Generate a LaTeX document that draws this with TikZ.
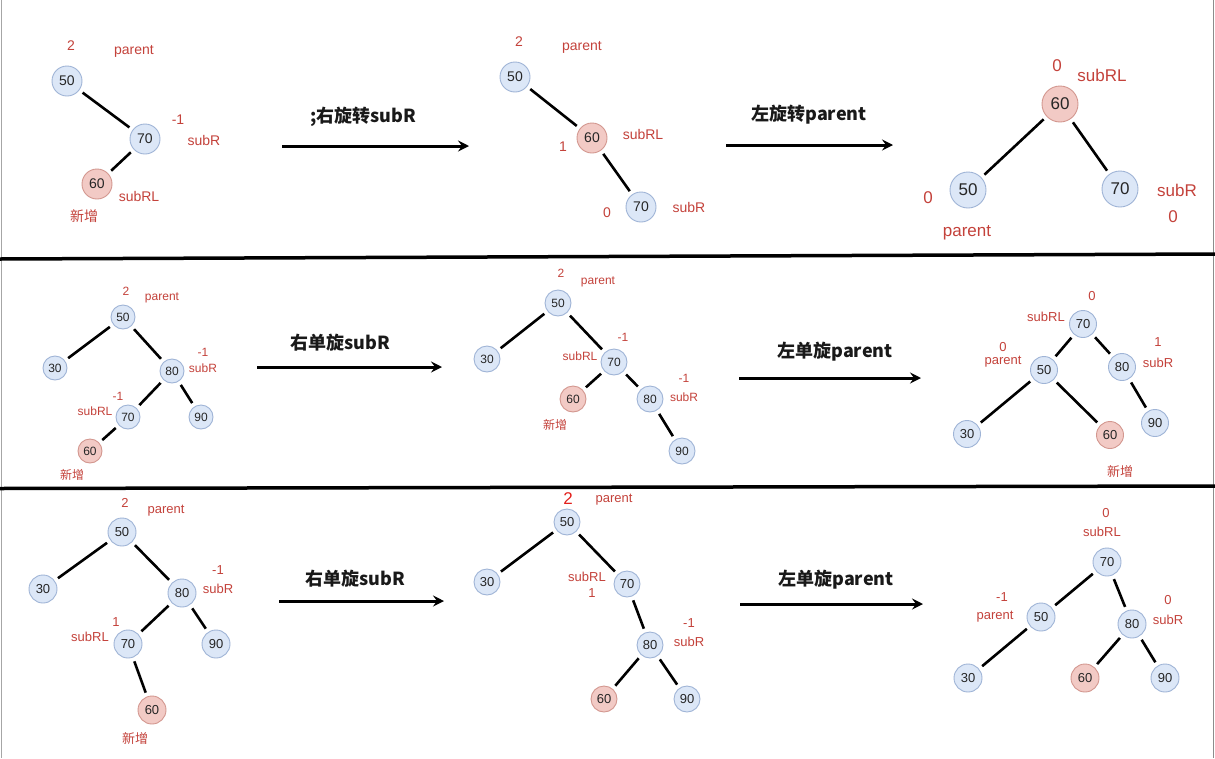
\documentclass[tikz,border=0pt]{standalone}
\usepackage{fontspec}
\setmainfont{Liberation Sans}
\newfontfamily\cjk{Noto Sans CJK SC}
\usetikzlibrary{arrows.meta}
\definecolor{bfill}{HTML}{DCE7F7}
\definecolor{bdraw}{HTML}{9FB4D6}
\definecolor{rfill}{HTML}{F2CAC5}
\definecolor{rdraw}{HTML}{D3978F}
\definecolor{lblred}{HTML}{C4423B}
\definecolor{brightred}{HTML}{E3201C}
\tikzset{
  bn/.style={circle, draw=bdraw, fill=bfill, line width=0.9pt, text=black!85, inner sep=0pt, minimum size=#1},
  rn/.style={circle, draw=rdraw, fill=rfill, line width=0.9pt, text=black!85, inner sep=0pt, minimum size=#1},
  ed/.style={line width=2.6pt, shorten >=4pt, shorten <=4pt},
  lb/.style={text=lblred, inner sep=0pt},
  arr/.style={line width=3pt, -{Stealth[length=11pt,width=11pt,inset=4pt]}},
  alb/.style={inner sep=0pt, text=black!90, font=\cjk\bfseries\fontsize{18}{20}\selectfont},
  fs/.style={font=\fontsize{#1}{#1}\selectfont}
}
\begin{document}
\begin{tikzpicture}[x=1pt,y=-1pt]
\useasboundingbox (0,0) rectangle (1215,758);
\fill[white] (0,0) rectangle (1215,758);
\draw[black!35, line width=0.8pt] (1,0) -- (1,758);
\draw[black!45, line width=1pt] (1213,0) -- (1213,758);
% separators
\draw[line width=3.5pt] (0,259) -- (1215,254);
\draw[line width=3.5pt] (0,488.5) -- (1215,486);

% ===== Row 1 left =====
\begin{scope}[fs=14]
\node[bn=30pt] (a50) at (67,81) {50};
\node[bn=30pt] (a70) at (145,139) {70};
\node[rn=30pt] (a60) at (97,184) {60};
\draw[ed] (a50) -- (a70);
\draw[ed] (a70) -- (a60);
\node[lb] (al1) at (71,46) {2};
\node[lb] (al2) at (134,51) {parent};
\node[lb] (al3) at (178,120) {-1};
\node[lb] (al4) at (204,140) {subR};
\node[lb] (al5) at (139,196) {subRL};
\node[lb,font=\cjk\fontsize{14}{14}\selectfont] (al6) at (84,216) {新增};
\end{scope}
\coordinate (r1s) at (282,146);
\coordinate (r1e) at (469,146);
\draw[arr] (r1s) -- (r1e);
\node[alb] (r1l) at (363,117) {;右旋转subR};

% ===== Row 1 middle =====
\begin{scope}[fs=14]
\node[bn=30pt] (b50) at (515,77) {50};
\node[rn=30pt] (b60) at (592,138) {60};
\node[bn=30pt] (b70) at (641,207) {70};
\draw[ed] (b50) -- (b60);
\draw[ed] (b60) -- (b70);
\node[lb] (bl1) at (519,42) {2};
\node[lb] (bl2) at (582,47) {parent};
\node[lb] (bl3) at (643,134) {subRL};
\node[lb] (bl4) at (563,147) {1};
\node[lb] (bl5) at (607,213) {0};
\node[lb] (bl6) at (689,207) {subR};
\end{scope}
\coordinate (r2s) at (726,145);
\coordinate (r2e) at (893,145);
\draw[arr] (r2s) -- (r2e);
\node[alb] (r2l) at (809,115) {左旋转parent};

% ===== Row 1 right =====
\begin{scope}[fs=17]
\node[rn=36pt] (c60) at (1060,104) {60};
\node[bn=36pt] (c50) at (968,190) {50};
\node[bn=36pt] (c70) at (1120,189) {70};
\draw[ed] (c60) -- (c50);
\draw[ed] (c60) -- (c70);
\node[lb] (cl1) at (1057,66) {0};
\node[lb] (cl2) at (1102,75) {subRL};
\node[lb] (cl3) at (928,198) {0};
\node[lb] (cl4) at (967,233) {parent};
\node[lb] (cl5) at (1177,190) {subR};
\node[lb] (cl6) at (1173,217) {0};
\end{scope}

% ===== Row 2 left =====
\begin{scope}[fs=12]
\node[bn=24pt] (d50) at (123,317) {50};
\node[bn=24pt] (d30) at (55,368) {30};
\node[bn=24pt] (d80) at (172,371) {80};
\node[bn=24pt] (d70) at (128,417) {70};
\node[bn=24pt] (d90) at (201,417) {90};
\node[rn=24pt] (d60) at (90,451) {60};
\draw[ed] (d50) -- (d30);
\draw[ed] (d50) -- (d80);
\draw[ed] (d80) -- (d70);
\draw[ed] (d80) -- (d90);
\draw[ed] (d70) -- (d60);
\node[lb] (dl1) at (126,291) {2};
\node[lb] (dl2) at (162,298) {parent};
\node[lb] (dl3) at (203,352) {-1};
\node[lb] (dl4) at (203,368) {subR};
\node[lb] (dl5) at (118,396) {-1};
\node[lb] (dl6) at (95,411) {subRL};
\node[lb,font=\cjk\fontsize{12}{12}\selectfont] (dl7) at (72,475) {新增};
\end{scope}
\coordinate (r3s) at (257,367);
\coordinate (r3e) at (442,367);
\draw[arr] (r3s) -- (r3e);
\node[alb] (r3l) at (340,343) {右单旋subR};

% ===== Row 2 middle =====
\begin{scope}[fs=12]
\node[bn=26pt] (e50) at (558,303) {50};
\node[bn=26pt] (e30) at (487,359) {30};
\node[bn=26pt] (e70) at (614,362) {70};
\node[rn=26pt] (e60) at (573,399) {60};
\node[bn=26pt] (e80) at (650,399) {80};
\node[bn=26pt] (e90) at (682,451) {90};
\draw[ed] (e50) -- (e30);
\draw[ed] (e50) -- (e70);
\draw[ed] (e70) -- (e60);
\draw[ed] (e70) -- (e80);
\draw[ed] (e80) -- (e90);
\node[lb] (el1) at (561,273) {2};
\node[lb] (el2) at (598,282) {parent};
\node[lb] (el3) at (623,337) {-1};
\node[lb] (el4) at (580,356) {subRL};
\node[lb,font=\cjk\fontsize{12}{12}\selectfont] (el5) at (555,425) {新增};
\node[lb] (el6) at (684,378) {-1};
\node[lb] (el7) at (684,397) {subR};
\end{scope}
\coordinate (r4s) at (739,378);
\coordinate (r4e) at (921,378);
\draw[arr] (r4s) -- (r4e);
\node[alb] (r4l) at (835,352) {左单旋parent};

% ===== Row 2 right =====
\begin{scope}[fs=13]
\node[bn=27pt] (f70) at (1083,324) {70};
\node[bn=27pt] (f50) at (1044,370) {50};
\node[bn=27pt] (f80) at (1122,367) {80};
\node[bn=27pt] (f30) at (967,434) {30};
\node[rn=27pt] (f60) at (1110,435) {60};
\node[bn=27pt] (f90) at (1155,423) {90};
\draw[ed] (f70) -- (f50);
\draw[ed] (f70) -- (f80);
\draw[ed] (f50) -- (f30);
\draw[ed] (f50) -- (f60);
\draw[ed] (f80) -- (f90);
\node[lb] (fl1) at (1092,296) {0};
\node[lb] (fl2) at (1046,317) {subRL};
\node[lb] (fl3) at (1003,347) {0};
\node[lb] (fl4) at (1003,362) {parent};
\node[lb] (fl5) at (1158,342) {1};
\node[lb] (fl6) at (1158,363) {subR};
\node[lb,font=\cjk\fontsize{13}{13}\selectfont] (fl7) at (1120,472) {新增};
\end{scope}

% ===== Row 3 left =====
\begin{scope}[fs=13]
\node[bn=28pt] (g50) at (122,532) {50};
\node[bn=28pt] (g30) at (43,589) {30};
\node[bn=28pt] (g80) at (182,593) {80};
\node[bn=28pt] (g70) at (128,644) {70};
\node[bn=28pt] (g90) at (216,644) {90};
\node[rn=28pt] (g60) at (152,710) {60};
\draw[ed] (g50) -- (g30);
\draw[ed] (g50) -- (g80);
\draw[ed] (g80) -- (g70);
\draw[ed] (g80) -- (g90);
\draw[ed] (g70) -- (g60);
\node[lb] (gl1) at (125,503) {2};
\node[lb] (gl2) at (166,511) {parent};
\node[lb] (gl3) at (218,570) {-1};
\node[lb] (gl4) at (218,589) {subR};
\node[lb] (gl5) at (116,622) {1};
\node[lb] (gl6) at (90,637) {subRL};
\node[lb,font=\cjk\fontsize{13}{13}\selectfont] (gl7) at (135,739) {新增};
\end{scope}
\coordinate (r5s) at (279,601);
\coordinate (r5e) at (444,601);
\draw[arr] (r5s) -- (r5e);
\node[alb] (r5l) at (355,579) {右单旋subR};

% ===== Row 3 middle =====
\begin{scope}[fs=13]
\node[bn=26pt] (h50) at (567,522) {50};
\node[bn=26pt] (h30) at (487,582) {30};
\node[bn=26pt] (h70) at (627,584) {70};
\node[bn=26pt] (h80) at (650,645) {80};
\node[rn=26pt] (h60) at (604,699) {60};
\node[bn=26pt] (h90) at (687,699) {90};
\draw[ed] (h50) -- (h30);
\draw[ed] (h50) -- (h70);
\draw[ed] (h70) -- (h80);
\draw[ed] (h80) -- (h60);
\draw[ed] (h80) -- (h90);
\node[lb,text=brightred,fs=17] (hl1) at (568,499) {2};
\node[lb] (hl2) at (614,500) {parent};
\node[lb] (hl3) at (587,577) {subRL};
\node[lb] (hl4) at (592,593) {1};
\node[lb] (hl5) at (689,623) {-1};
\node[lb] (hl6) at (689,642) {subR};
\end{scope}
\coordinate (r6s) at (740,604);
\coordinate (r6e) at (923,604);
\draw[arr] (r6s) -- (r6e);
\node[alb] (r6l) at (836,580) {左单旋parent};

% ===== Row 3 right =====
\begin{scope}[fs=13]
\node[bn=28pt] (k70) at (1107,562) {70};
\node[bn=28pt] (k50) at (1041,617) {50};
\node[bn=28pt] (k80) at (1132,624) {80};
\node[bn=28pt] (k30) at (968,678) {30};
\node[rn=28pt] (k60) at (1085,678) {60};
\node[bn=28pt] (k90) at (1165,678) {90};
\draw[ed] (k70) -- (k50);
\draw[ed] (k70) -- (k80);
\draw[ed] (k50) -- (k30);
\draw[ed] (k80) -- (k60);
\draw[ed] (k80) -- (k90);
\node[lb] (kl1) at (1106,513) {0};
\node[lb] (kl2) at (1102,532) {subRL};
\node[lb] (kl3) at (1002,597) {-1};
\node[lb] (kl4) at (995,617) {parent};
\node[lb] (kl5) at (1168,600) {0};
\node[lb] (kl6) at (1168,620) {subR};
\end{scope}
\end{tikzpicture}
\end{document}
